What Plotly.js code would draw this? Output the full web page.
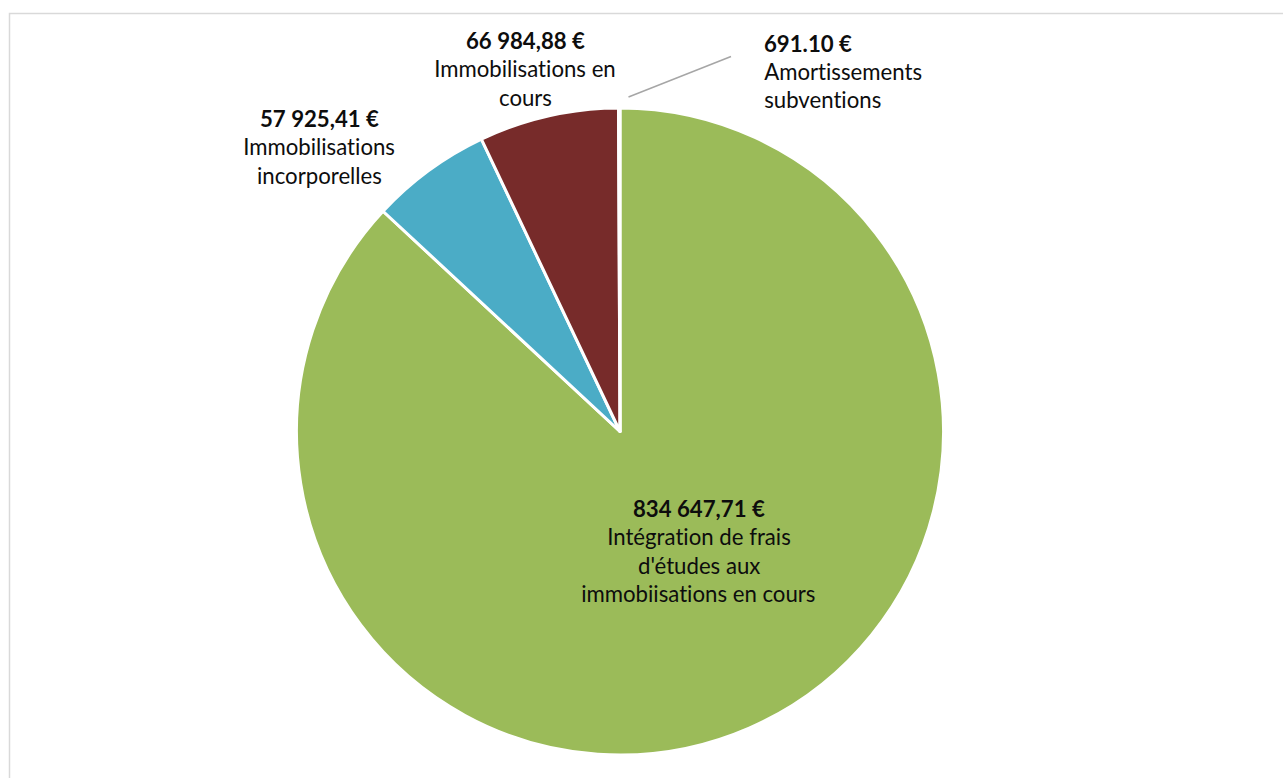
<!DOCTYPE html>
<html>
<head>
<meta charset="utf-8">
<script src="https://cdn.plot.ly/plotly-3.0.1.min.js"></script>
<style>
  html, body { margin: 0; padding: 0; background: #ffffff; }
  #chart { width: 1283px; height: 778px; }
  #chart text { font-variant-ligatures: none; font-feature-settings: "liga" 0, "clig" 0; }
</style>
</head>
<body>
<div id="chart"></div>
<script>
// ---- data ----
const categories = [
  "Intégration de frais d'études aux immobiisations en cours",
  "Immobilisations incorporelles",
  "Immobilisations en cours",
  "Amortissements subventions"
];
const values = [834647.71, 57925.41, 66984.88, 691.10];
const valueLabels = ["834 647,71 €", "57 925,41 €", "66 984,88 €", "691.10 €"];
const labelLines = [
  ["Intégration de frais", "d'études aux", "immobiisations en cours"],
  ["Immobilisations", "incorporelles"],
  ["Immobilisations en", "cours"],
  ["Amortissements", "subventions"]
];
const colors = ["#9BBB59", "#4BACC6", "#772B2A", "#8064A2"];

// ---- layout helpers (pixels -> paper) ----
const W = 1283, H = 778;
const px = x => x / W;
const py = y => 1 - y / H;

const cx = 620, cy = 431.5, r = 323.5;

// label anchor points (pixel) and alignment
const labelPos = [
  { x: 698.5, y: 508.5, align: "center" },
  { x: 319,   y: 118.5, align: "center" },
  { x: 525,   y: 40.5,  align: "center" },
  { x: 762,   y: 43,    align: "left" }
];
const lineStep = 28.3;
const fontFamily = "Lato, 'Noto Sans', sans-serif";
const fontSize = 22.2;

const annotations = [];
labelPos.forEach((p, i) => {
  const lines = [valueLabels[i]].concat(labelLines[i]);
  lines.forEach((t, j) => {
    annotations.push({
      xref: "paper", yref: "paper",
      x: px(p.x), y: py(p.y + j * lineStep),
      xanchor: p.align === "left" ? "left" : "center",
      yanchor: "middle",
      showarrow: false,
      text: j === 0 ? "<b>" + t + "</b>" : t,
      font: { family: fontFamily, size: fontSize, color: "#0D0D0D" }
    });
  });
});

const trace = {
  type: "pie",
  labels: categories,
  values: values,
  sort: false,
  direction: "clockwise",
  rotation: 0,
  textinfo: "none",
  hoverinfo: "label+value",
  marker: { colors: colors, line: { color: "#FFFFFF", width: 3 } },
  domain: { x: [px(cx - r), px(cx + r)], y: [py(cy + r), py(cy - r)] }
};

const layout = {
  width: W, height: H,
  margin: { l: 0, r: 0, t: 0, b: 0 },
  paper_bgcolor: "#FFFFFF",
  showlegend: false,
  annotations: annotations,
  shapes: [
    { type: "rect", xref: "paper", yref: "paper",
      x0: px(9.5), x1: px(1300), y0: py(13.5), y1: py(800),
      line: { color: "#D9D9D9", width: 1.5 }, fillcolor: "rgba(0,0,0,0)", layer: "below" },
    { type: "line", xref: "paper", yref: "paper",
      x0: px(628.5), y0: py(97), x1: px(731), y1: py(56.5),
      line: { color: "#A6A6A6", width: 1.5 } }
  ]
};

Plotly.newPlot("chart", [trace], layout, { staticPlot: true, displayModeBar: false });
</script>
</body>
</html>
